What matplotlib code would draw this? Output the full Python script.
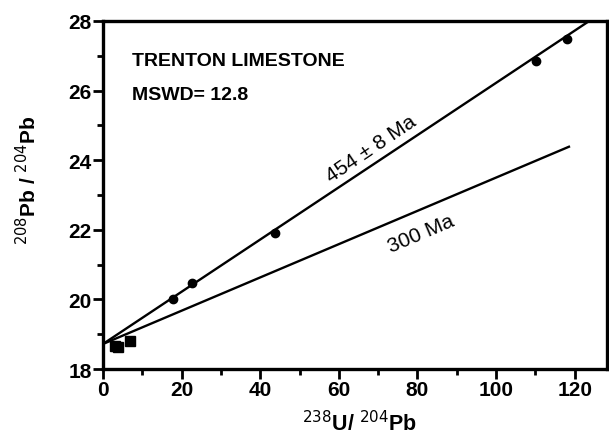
import matplotlib
matplotlib.use("Agg")
import matplotlib.pyplot as plt
from matplotlib.ticker import MultipleLocator

# Data
square_x = [3.0, 3.9, 7.0]
square_y = [18.67, 18.62, 18.82]
circle_x = [17.9, 22.6, 43.8, 110.2, 118.0]
circle_y = [20.00, 20.47, 21.92, 26.86, 27.49]

iso454_x = [0.0, 123.7]
iso454_y = [18.72, 28.0]
ref300_x = [0.0, 118.8]
ref300_y = [18.72, 24.40]

xticks = [0, 20, 40, 60, 80, 100, 120]
yticks = [18, 20, 22, 24, 26, 28]

plt.rcParams['font.family'] = ['Liberation Sans', 'DejaVu Sans']

fig = plt.figure(figsize=(6.09, 4.39), dpi=100)
ax = fig.add_axes([0.169, 0.157, 0.8277, 0.793])

ax.plot(iso454_x, iso454_y, color='black', lw=1.7, solid_capstyle='butt')
ax.plot(ref300_x, ref300_y, color='black', lw=1.7, solid_capstyle='butt')
ax.plot(circle_x, circle_y, 'o', color='black', ms=6)
ax.plot(square_x, square_y, 's', color='black', ms=6.5)

ax.set_xlim(0, 128.2)
ax.set_ylim(18, 28)
ax.set_xticks(xticks)
ax.set_yticks(yticks)
ax.xaxis.set_minor_locator(MultipleLocator(10))
ax.yaxis.set_minor_locator(MultipleLocator(1))

for s in ax.spines.values():
    s.set_linewidth(2.4)

ax.tick_params(which='major', direction='out', length=7, width=2, labelsize=15, pad=1)
ax.tick_params(which='minor', direction='out', length=4, width=2)
for lab in ax.get_xticklabels() + ax.get_yticklabels():
    lab.set_fontweight('bold')

ax.text(7.5, 26.85, 'TRENTON LIMESTONE', fontsize=14, fontweight='bold',
        va='center', ha='left')
ax.text(7.5, 25.9, 'MSWD= 12.8', fontsize=14, fontweight='bold',
        va='center', ha='left')

ax.text(68.2, 24.34, '454 ± 8 Ma', fontsize=15, rotation=34,
        ha='center', va='center', rotation_mode='anchor')
ax.text(80.9, 21.89, '300 Ma', fontsize=15, rotation=23,
        ha='center', va='center', rotation_mode='anchor')

fig.text(0.045, 0.59, r'$^{208}$Pb / $^{204}$Pb', rotation=90, fontsize=15,
         fontweight='bold', ha='center', va='center')
fig.text(0.59, 0.035, r'$^{238}$U/ $^{204}$Pb', fontsize=15.5,
         fontweight='bold', ha='center', va='center')

fig.savefig('out.png', dpi=100)
